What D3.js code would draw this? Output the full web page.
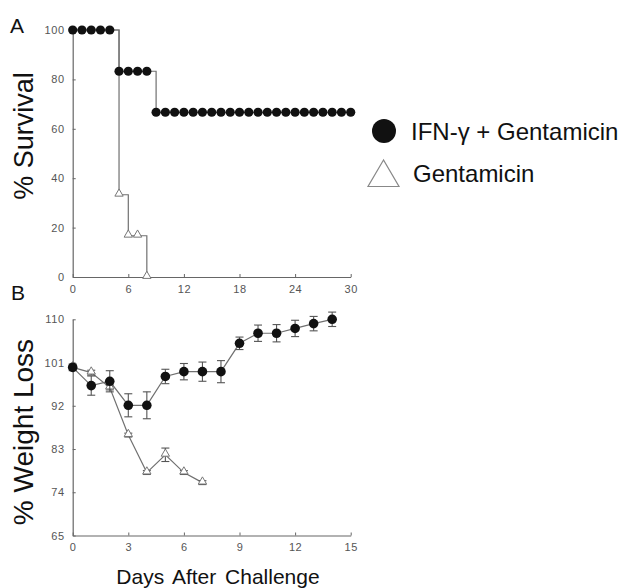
<!DOCTYPE html>
<html>
<head>
<meta charset="utf-8">
<script src="https://cdn.jsdelivr.net/npm/d3@7"></script>
<style>
  html, body { margin: 0; padding: 0; background: #fff; }
  svg { display: block; font-family: "Liberation Sans", Arial, sans-serif; }
  .tick text { fill: #555; font-size: 11px; }
  .domain, .tick line { stroke: #666; }
</style>
</head>
<body>
<svg id="chart" width="628" height="588"></svg>
<script>
// ---------- Data ----------
// Panel A: % Survival
const survDays      = [0,1,2,3,4,5,6,7,8,9,10,11,12,13,14,15,16,17,18,19,20,21,22,23,24,25,26,27,28,29,30];
const survIFN       = [100,100,100,100,100,83.3,83.3,83.3,83.3,66.7,66.7,66.7,66.7,66.7,66.7,66.7,66.7,66.7,66.7,66.7,66.7,66.7,66.7,66.7,66.7,66.7,66.7,66.7,66.7,66.7,66.7];
const survGentDays  = [0,1,2,3,4,5,6,7,8];
const survGent      = [100,100,100,100,100,33.3,16.7,16.7,0];
const survXTicks    = [0,6,12,18,24,30];
const survYTicks    = [0,20,40,60,80,100];

// Panel B: % Weight Loss
const wtDaysIFN     = [0,1,2,3,4,5,6,7,8,9,10,11,12,13,14];
const wtIFN         = [100,96.2,97.1,92.1,92.1,98.1,99.1,99.1,99.1,105,107.1,107.1,108.1,109.1,110];
const wtIFNErr      = [0.7,2.0,2.2,2.4,2.8,1.5,1.7,2.0,2.3,1.3,1.7,1.8,1.7,1.5,1.5];
const wtDaysGent    = [0,1,2,3,4,5,6,7];
const wtGent        = [100,98.9,95.8,85.9,78.1,81.8,78.1,76];
const wtGentErr     = [0.5,0.5,0.5,0.4,0.4,1.4,0.4,0.4];
const wtXTicks      = [0,3,6,9,12,15];
const wtYTicks      = [65,74,83,92,101,110];

const legendLabels  = ["IFN-\u03b3 + Gentamicin", "Gentamicin"];
const panelLabels   = ["A", "B"];
const yTitles       = ["% Survival", "% Weight Loss"];
const xTitle        = "Days After Challenge";

// ---------- Layout ----------
const svg = d3.select("#chart");
const lineColor = "#707070";
const triStroke = "#777";

const xA = d3.scaleLinear().domain([0,30]).range([72.7,350.7]);
const yA = d3.scaleLinear().domain([0,100]).range([277,30]);
const xB = d3.scaleLinear().domain([0,15]).range([72.7,350.7]);
const yB = d3.scaleLinear().domain([65,110]).range([535.5,319.3]);

function drawAxes(g, x, y, xt, yt) {
  const ax = g.append("g").attr("transform", `translate(0,${y.range()[0]})`)
    .call(d3.axisBottom(x).tickValues(xt).tickSizeInner(-3).tickSizeOuter(0).tickPadding(8));
  const ay = g.append("g").attr("transform", `translate(${x.range()[0]},0)`)
    .call(d3.axisLeft(y).tickValues(yt).tickSizeInner(-3).tickSizeOuter(0).tickPadding(8));
  [ax, ay].forEach(a => {
    a.select(".domain").attr("stroke", "#666").attr("stroke-width", 1.2);
    a.selectAll(".tick line").attr("stroke", "#666");
    a.selectAll(".tick text").attr("fill", "#555").style("font-size", "11px").style("letter-spacing", "0.6px");
  });
}

const triSym = d3.symbol().type(d3.symbolTriangle);

// ---------- Panel A ----------
const gA = svg.append("g");
drawAxes(gA, xA, yA, survXTicks, survYTicks);

const stepLineA = d3.line().curve(d3.curveStepAfter).x(d => xA(d[0])).y(d => yA(d[1]));
const gentA = survGentDays.map((d,i) => [d, survGent[i]]);
const ifnA = survDays.map((d,i) => [d, survIFN[i]]);

gA.append("path").attr("d", stepLineA(gentA)).attr("fill","none").attr("stroke",lineColor).attr("stroke-width",1.2);
gA.append("path").attr("d", stepLineA(ifnA)).attr("fill","none").attr("stroke",lineColor).attr("stroke-width",1.2);

gA.selectAll(".triA").data(gentA.filter(d => d[1] < 100)).enter().append("path")
  .attr("d", triSym.size(30)())
  .attr("transform", d => `translate(${xA(d[0])},${yA(d[1]) - 1})`)
  .attr("fill", "#fff").attr("stroke", triStroke).attr("stroke-width", 1);

gA.selectAll(".dotA").data(ifnA).enter().append("circle")
  .attr("cx", d => xA(d[0])).attr("cy", d => yA(d[1])).attr("r", 4.6)
  .attr("fill", "#111");

// ---------- Panel B ----------
const gB = svg.append("g");
drawAxes(gB, xB, yB, wtXTicks, wtYTicks);

const lineB = d3.line().x(d => xB(d.x)).y(d => yB(d.y));
const gentB = wtDaysGent.map((d,i) => ({x:d, y:wtGent[i], e:wtGentErr[i]}));
const ifnB = wtDaysIFN.map((d,i) => ({x:d, y:wtIFN[i], e:wtIFNErr[i]}));

function errBars(g, data) {
  const eg = g.append("g").attr("stroke", "#555").attr("stroke-width", 1.1);
  data.forEach(d => {
    const cx = xB(d.x), y1 = yB(d.y - d.e), y2 = yB(d.y + d.e);
    eg.append("line").attr("x1",cx).attr("x2",cx).attr("y1",y1).attr("y2",y2);
    eg.append("line").attr("x1",cx-4).attr("x2",cx+4).attr("y1",y1).attr("y2",y1);
    eg.append("line").attr("x1",cx-4).attr("x2",cx+4).attr("y1",y2).attr("y2",y2);
  });
}

gB.append("path").attr("d", lineB(gentB)).attr("fill","none").attr("stroke",lineColor).attr("stroke-width",1.2);
errBars(gB, gentB);
gB.selectAll(".triB").data(gentB).enter().append("path")
  .attr("d", triSym.size(30)())
  .attr("transform", d => `translate(${xB(d.x)},${yB(d.y) - 1})`)
  .attr("fill", "#fff").attr("stroke", triStroke).attr("stroke-width", 1);

gB.append("path").attr("d", lineB(ifnB)).attr("fill","none").attr("stroke",lineColor).attr("stroke-width",1.2);
errBars(gB, ifnB);
gB.selectAll(".dotB").data(ifnB).enter().append("circle")
  .attr("cx", d => xB(d.x)).attr("cy", d => yB(d.y)).attr("r", 4.8)
  .attr("fill", "#111");

// ---------- Titles ----------
svg.append("text").text(panelLabels[0]).attr("x", 10).attr("y", 33)
  .style("font-size", "21px").attr("fill", "#111");
svg.append("text").text(panelLabels[1]).attr("x", 11).attr("y", 300)
  .style("font-size", "21px").attr("fill", "#111");

svg.append("text").text(yTitles[0])
  .attr("transform", "translate(33,136) rotate(-90)")
  .attr("text-anchor", "middle").style("font-size", "27px").attr("fill", "#111");
svg.append("text").text(yTitles[1])
  .attr("transform", "translate(33,432) rotate(-90)")
  .attr("text-anchor", "middle").style("font-size", "28px").attr("fill", "#111");

svg.append("text").text(xTitle)
  .attr("x", 218).attr("y", 584).attr("text-anchor", "middle")
  .style("font-size", "21px").style("word-spacing", "3px").attr("fill", "#111");

// ---------- Legend ----------
const leg = svg.append("g");
leg.append("circle").attr("cx", 384).attr("cy", 131).attr("r", 12).attr("fill", "#111");
leg.append("text").text(legendLabels[0]).attr("x", 411).attr("y", 140)
  .style("font-size", "24px").attr("fill", "#111");
leg.append("path").attr("d", "M383.5,160 L368,186.5 L399,186.5 Z")
  .attr("fill", "#fff").attr("stroke", "#888").attr("stroke-width", 1.2);
leg.append("text").text(legendLabels[1]).attr("x", 413).attr("y", 182)
  .style("font-size", "24px").attr("fill", "#111");
</script>
</body>
</html>
